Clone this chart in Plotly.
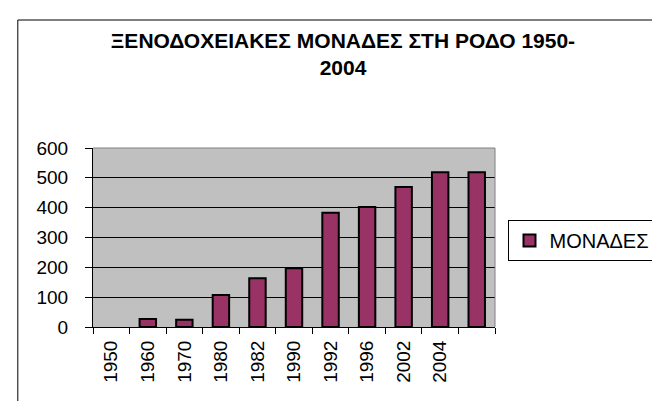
import plotly.graph_objects as go

categories = ["1950", "1960", "1970", "1980", "1982", "1990", "1992", "1996", "2002", "2004", " "]
values = [None, 27, 24, 107, 163, 197, 383, 402, 469, 519, 519]
series_name = "ΜΟΝΑΔΕΣ"
title_text = "<b>ΞΕΝΟΔΟΧΕΙΑΚΕΣ ΜΟΝΑΔΕΣ ΣΤΗ ΡΟΔΟ 1950-<br>2004</b>"

L, R, T, B = 85, 158, 140, 82
W, H = 660, 401
pw, ph = W - L - R, H - T - B

def px(x):
    return (x - L) / pw

def py(y):
    return (H - B - y) / ph

FONT = "Liberation Sans, Arial"

fig = go.Figure()
fig.add_trace(go.Bar(
    x=categories, y=values, name=series_name,
    marker=dict(color="#993366", line=dict(color="black", width=2)),
    showlegend=True,
))

fig.update_layout(
    width=W, height=H,
    margin=dict(l=L, r=R, t=T, b=B),
    paper_bgcolor="white",
    plot_bgcolor="#C0C0C0",
    bargap=0.55,
    font=dict(family=FONT, size=19, color="black"),
    title=dict(
        text=title_text,
        font=dict(family=FONT, size=21, color="black"),
        xref="container", x=335 / W, xanchor="center",
        yref="container", y=1 - 40 / H, yanchor="top",
    ),
    legend=dict(
        x=px(516), y=py(212), xanchor="left", yanchor="top",
        bordercolor="black", borderwidth=1, bgcolor="white",
        font=dict(family=FONT, size=20),
        itemwidth=30,
    ),
    xaxis=dict(
        type="category",
        showline=True, linecolor="black", linewidth=1,
        ticks="outside", ticklen=6, tickcolor="black",
        tickson="boundaries", tickangle=-90,
        showgrid=False,
        tickfont=dict(size=19),
        ticklabelstandoff=5,
    ),
    yaxis=dict(
        range=[0, 600], dtick=100,
        showline=True, linecolor="black", linewidth=1,
        ticks="outside", ticklen=7, tickcolor="black",
        showgrid=True, gridcolor="black", gridwidth=1,
        zeroline=False,
        tickfont=dict(size=19),
        ticklabelstandoff=13,
    ),
    shapes=[
        dict(type="rect", xref="paper", yref="paper",
             x0=px(7), x1=px(670), y0=py(415), y1=py(12),
             line=dict(color="black", width=1), fillcolor="rgba(0,0,0,0)", layer="below"),
        dict(type="line", xref="paper", yref="paper",
             x0=1, x1=1, y0=0, y1=1, line=dict(color="#808080", width=1)),
        dict(type="line", xref="paper", yref="paper",
             x0=0, x1=1, y0=1, y1=1, line=dict(color="#808080", width=1)),
    ],
)

fig.write_html("out.html")
